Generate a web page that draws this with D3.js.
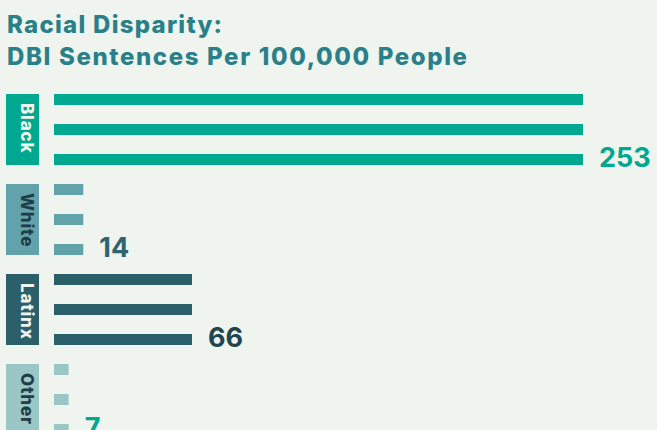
<!DOCTYPE html>
<html>
<head>
<meta charset="utf-8">
<script src="https://cdn.jsdelivr.net/npm/d3@7"></script>
<style>
  html, body { margin: 0; padding: 0; background: #eff4ee; }
  svg { display: block; font-family: Inter, "Open Sans", sans-serif; }
</style>
</head>
<body>
<script>
// data
var categories = ['Black', 'White', 'Latinx', 'Other'];
var values = [253, 14, 66, 7];
var titleLines = ['Racial Disparity:', 'DBI Sentences Per 100,000 People'];
var titleWidths = [215, 460];

var barColors = ['#00a88f', '#62a2ab', '#2b5f69', '#9ac7c6'];
var boxText = ['#f0f4ee', '#1f3d47', '#f0f4ee', '#1f3d47'];
var valueColors = ['#00a88f', '#2e6470', '#1e4550', '#00a88f'];

const w = 657;
const h = 430;

var svg = d3.select('body')
  .append('svg')
  .attr('width', w)
  .attr('height', h)

svg.append('rect')
  .attr('width', w)
  .attr('height', h)
  .attr('fill', '#eff4ee')

// title
svg.selectAll('.title')
  .data(titleLines)
  .enter()
  .append('text')
  .attr('class', 'title')
  .attr('x', 7)
  .attr('y', (d, i) => 33 + i * 32)
  .attr('fill', '#2a8089')
  .attr('font-size', 24)
  .attr('font-weight', 800)
  .attr('textLength', (d, i) => titleWidths[i])
  .attr('lengthAdjust', 'spacing')
  .text(d => d)

// scales
var yScale = d3.scaleBand()
  .domain(categories)
  .range([94, 94 + 90 * (4 - 19 / 90)])
  .paddingInner(19 / 90)
  .paddingOuter(0)

var subScale = d3.scaleBand()
  .domain([0, 1, 2])
  .range([0, yScale.bandwidth()])
  .paddingInner(19 / 30)
  .paddingOuter(0)

var xScale = d3.scaleLinear()
  .domain([0, 253])
  .range([54, 583])

var groups = svg.selectAll('.group')
  .data(categories)
  .enter()
  .append('g')
  .attr('class', 'group')
  .attr('transform', d => 'translate(0,' + yScale(d) + ')')

// category boxes
groups.append('rect')
  .attr('x', 6)
  .attr('y', 0)
  .attr('width', 33)
  .attr('height', yScale.bandwidth())
  .attr('fill', (d, i) => barColors[i])

groups.append('text')
  .attr('transform', 'translate(21,9) rotate(90)')
  .attr('fill', (d, i) => boxText[i])
  .attr('font-size', 17)
  .attr('font-weight', 800)
  .attr('letter-spacing', 0.8)
  .text(d => d)

// bars, three per category
groups.each(function(cat, i) {
  d3.select(this).selectAll('.bar')
    .data(subScale.domain())
    .enter()
    .append('rect')
    .attr('class', 'bar')
    .attr('x', xScale(0))
    .attr('y', k => subScale(k))
    .attr('width', xScale(values[i]) - xScale(0))
    .attr('height', subScale.bandwidth())
    .attr('fill', barColors[i])
})

// value labels
groups.append('text')
  .attr('x', (d, i) => xScale(values[i]) + 16)
  .attr('y', subScale(2) + subScale.bandwidth() + 2)
  .attr('fill', (d, i) => valueColors[i])
  .attr('font-size', 27)
  .attr('font-weight', 700)
  .text((d, i) => values[i])
</script>
</body>
</html>
